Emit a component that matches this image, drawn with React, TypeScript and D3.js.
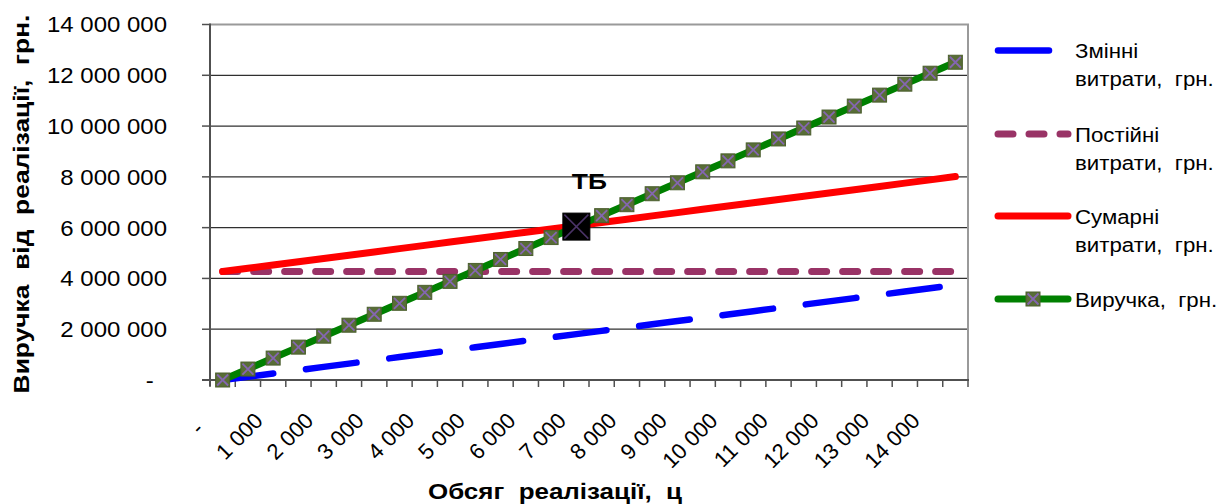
import React from "react";
import * as d3 from "d3";

// обсяг реалізації, ц
const volumes = [
    0, 500, 1000, 1500, 2000, 2500, 3000, 3500, 4000, 4500,
    5000, 5500, 6000, 6500, 7000, 7500, 8000, 8500, 9000, 9500,
    10000, 10500, 11000, 11500, 12000, 12500, 13000, 13500, 14000, 14500,
];

const variableCosts = [
    0, 129000, 258000, 387000, 516000, 645000, 774000, 903000, 1032000, 1161000,
    1290000, 1419000, 1548000, 1677000, 1806000, 1935000, 2064000, 2193000, 2322000, 2451000,
    2580000, 2709000, 2838000, 2967000, 3096000, 3225000, 3354000, 3483000, 3612000, 3741000,
];

const fixedCosts = [
    4270000, 4270000, 4270000, 4270000, 4270000, 4270000, 4270000, 4270000, 4270000, 4270000,
    4270000, 4270000, 4270000, 4270000, 4270000, 4270000, 4270000, 4270000, 4270000, 4270000,
    4270000, 4270000, 4270000, 4270000, 4270000, 4270000, 4270000, 4270000, 4270000, 4270000,
];

const totalCosts = [
    4270000, 4399000, 4528000, 4657000, 4786000, 4915000, 5044000, 5173000, 5302000, 5431000,
    5560000, 5689000, 5818000, 5947000, 6076000, 6205000, 6334000, 6463000, 6592000, 6721000,
    6850000, 6979000, 7108000, 7237000, 7366000, 7495000, 7624000, 7753000, 7882000, 8011000,
];

const revenue = [
    0, 431500, 863000, 1294500, 1726000, 2157500, 2589000, 3020500, 3452000, 3883500,
    4315000, 4746500, 5178000, 5609500, 6041000, 6472500, 6904000, 7335500, 7767000, 8198500,
    8630000, 9061500, 9493000, 9924500, 10356000, 10787500, 11219000, 11650500, 12082000, 12513500,
];

// точка беззбитковості
const breakEvenVolume = 7000;
const breakEvenRevenue = 6041000;

const yTicks = [0, 2000000, 4000000, 6000000, 8000000, 10000000, 12000000, 14000000];
const xLabelVolumes = [0, 1000, 2000, 3000, 4000, 5000, 6000, 7000, 8000, 9000, 10000, 11000, 12000, 13000, 14000];

const legendLabels = [
    ["Змінні", "витрати,  грн."],
    ["Постійні", "витрати,  грн."],
    ["Сумарні", "витрати,  грн."],
    ["Виручка,  грн."],
];

const FONT = "'Liberation Sans', Arial, sans-serif";

const formatNumber = (v: number): string =>
    v === 0 ? "-\u00a0\u00a0" : d3.format(",")(v).replace(/,/g, " ");

export default class App extends React.Component {
    private svgRef = React.createRef<SVGSVGElement>();

    public componentDidMount() {
        this.drawChart();
    }

    public render() {
        return <svg ref={this.svgRef} width={1224} height={504}
            style={{ position: "absolute", left: 0, top: 0, background: "#fff" }}></svg>;
    }

    private drawChart = (): void => {
        const left = 210, right = 968, top = 24.5, bottom = 380;

        const svg = d3.select(this.svgRef.current);
        svg.selectAll("*").remove();

        const x = d3.scaleBand<number>()
            .domain(volumes)
            .range([left, right]);
        const cx = (v: number) => (x(v) as number) + x.bandwidth() / 2;
        const y = d3.scaleLinear()
            .domain([0, 14000000])
            .range([bottom, top]);

        // gridlines
        svg.selectAll("line.grid")
            .data(yTicks.filter(d => d > 0 && d < 14000000))
            .enter()
            .append("line")
            .attr("x1", left).attr("x2", right)
            .attr("y1", d => y(d)).attr("y2", d => y(d))
            .attr("stroke", "#303030")
            .attr("stroke-width", 1.3);

        // plot border (top, right)
        svg.append("path")
            .attr("d", `M${left},${top}H${right}V${bottom}`)
            .attr("fill", "none")
            .attr("stroke", "#9a9a9a")
            .attr("stroke-width", 2);

        // axes
        svg.append("line")
            .attr("x1", left).attr("x2", left)
            .attr("y1", top - 1).attr("y2", bottom + 6)
            .attr("stroke", "#505050").attr("stroke-width", 2);
        svg.append("line")
            .attr("x1", left - 8).attr("x2", right + 1)
            .attr("y1", bottom).attr("y2", bottom)
            .attr("stroke", "#505050").attr("stroke-width", 2);

        svg.selectAll("line.ytick")
            .data(yTicks)
            .enter()
            .append("line")
            .attr("x1", left - 8).attr("x2", left)
            .attr("y1", d => y(d)).attr("y2", d => y(d))
            .attr("stroke", "#505050").attr("stroke-width", 1.5);

        const boundaries = volumes.map(v => x(v) as number).concat([right]);
        svg.selectAll("line.xtick")
            .data(boundaries)
            .enter()
            .append("line")
            .attr("x1", d => d).attr("x2", d => d)
            .attr("y1", bottom).attr("y2", bottom + 7)
            .attr("stroke", "#505050").attr("stroke-width", 1.5);

        // y tick labels
        svg.selectAll("text.ylab")
            .data(yTicks)
            .enter()
            .append("text")
            .text(d => formatNumber(d))
            .attr("transform", d => `translate(167,${y(d)}) scale(1.09,1)`)
            .attr("dy", "0.36em")
            .attr("text-anchor", "end")
            .attr("font-family", FONT)
            .attr("font-size", "22px")
            .attr("fill", "#000");

        // x tick labels
        svg.selectAll("text.xlab")
            .data(xLabelVolumes)
            .enter()
            .append("text")
            .text(d => formatNumber(d))
            .attr("text-anchor", "end")
            .attr("transform", d => `translate(${cx(d) - 9},${422}) rotate(-45)`)
            .attr("font-family", FONT)
            .attr("font-size", "22px")
            .attr("fill", "#000");

        const line = d3.line<number>()
            .x((d, i) => cx(volumes[i]))
            .y(d => y(d));

        svg.append("path")
            .attr("d", line(variableCosts))
            .attr("fill", "none")
            .attr("stroke", "#0000ff")
            .attr("stroke-width", 6.5)
            .attr("stroke-linecap", "round")
            .attr("stroke-dasharray", "51 33");

        svg.append("path")
            .attr("d", line(fixedCosts))
            .attr("fill", "none")
            .attr("stroke", "#993366")
            .attr("stroke-width", 7)
            .attr("stroke-linecap", "round")
            .attr("stroke-dasharray", "15 16");

        svg.append("path")
            .attr("d", line(totalCosts))
            .attr("fill", "none")
            .attr("stroke", "#ff0000")
            .attr("stroke-width", 7)
            .attr("stroke-linecap", "round");

        svg.append("path")
            .attr("d", line(revenue))
            .attr("fill", "none")
            .attr("stroke", "#008000")
            .attr("stroke-width", 7);

        const drawMarker = (g: d3.Selection<SVGGElement, unknown, null, undefined>, size: number,
            fill: string, cross: string, crossWidth: number) => {
            const h = size / 2;
            g.append("rect")
                .attr("x", -h).attr("y", -h)
                .attr("width", size).attr("height", size)
                .attr("fill", fill)
                .attr("stroke", d3.color(fill)!.darker(0.4).toString())
                .attr("stroke-width", 1);
            g.append("path")
                .attr("d", `M${-h + 1.5},${-h + 1.5}L${h - 1.5},${h - 1.5}M${h - 1.5},${-h + 1.5}L${-h + 1.5},${h - 1.5}`)
                .attr("stroke", cross)
                .attr("stroke-width", crossWidth);
        };

        revenue.forEach((d, i) => {
            const g = svg.append("g")
                .attr("transform", `translate(${cx(volumes[i])},${y(d)})`);
            drawMarker(g, 14, "#586d36", "#8466b0", 1.8);
        });

        // break-even point
        const be = svg.append("g")
            .attr("transform", `translate(${cx(breakEvenVolume)},${y(breakEvenRevenue)})`);
        drawMarker(be, 27, "#000000", "#4a3366", 1.5);
        svg.append("text")
            .text("ТБ")
            .attr("transform", `translate(${cx(breakEvenVolume) + 13},${y(breakEvenRevenue) - 38}) scale(1.2,1)`)
            .attr("text-anchor", "middle")
            .attr("font-family", FONT)
            .attr("font-size", "22px")
            .attr("font-weight", "bold")
            .attr("fill", "#000");

        // axis titles
        svg.append("text")
            .text("Обсяг  реалізації,  ц")
            .attr("transform", "translate(555,499) scale(1.18,1)")
            .attr("text-anchor", "middle")
            .attr("font-family", FONT)
            .attr("font-size", "22px")
            .attr("font-weight", "bold")
            .style("white-space", "pre");

        svg.append("text")
            .text("Виручка  від  реалізації,  грн.")
            .attr("transform", "translate(29,204) rotate(-90) scale(1.2,1)")
            .attr("text-anchor", "middle")
            .attr("font-family", FONT)
            .attr("font-size", "22px")
            .attr("font-weight", "bold")
            .style("white-space", "pre");

        // legend
        const legendY = [50.5, 134, 216, 299];
        const legendStyles = [
            { stroke: "#0000ff", width: 6.5, dash: "51 33", cap: "round" },
            { stroke: "#993366", width: 7, dash: "15 16", cap: "round" },
            { stroke: "#ff0000", width: 7, dash: null, cap: "round" },
            { stroke: "#008000", width: 7, dash: null, cap: "round" },
        ];
        legendLabels.forEach((lines, i) => {
            const st = legendStyles[i];
            const ly = legendY[i];
            const l = svg.append("line")
                .attr("x1", 998).attr("x2", 1068)
                .attr("y1", ly).attr("y2", ly)
                .attr("stroke", st.stroke)
                .attr("stroke-width", st.width)
                .attr("stroke-linecap", st.cap);
            if (st.dash) l.attr("stroke-dasharray", st.dash);
            if (i === 3) {
                const g = svg.append("g").attr("transform", `translate(1033,${ly})`);
                drawMarker(g, 14, "#586d36", "#8466b0", 1.8);
            }
            lines.forEach((t, j) => {
                svg.append("text")
                    .text(t)
                    .attr("transform", `translate(1075,${ly + j * 28}) scale(1.06,1)`)
                    .attr("dy", "0.36em")
                    .attr("font-family", FONT)
                    .attr("font-size", "21px")
                    .attr("fill", "#000")
                    .style("white-space", "pre");
            });
        });
    }
}
